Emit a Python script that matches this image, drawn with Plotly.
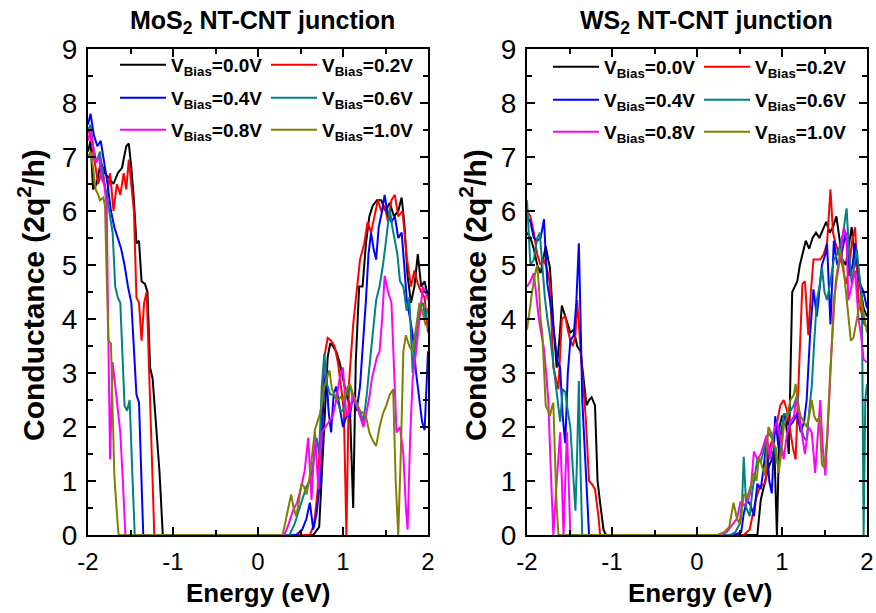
import plotly.graph_objects as go

# ---------------- DATA ----------------
bias_labels = ["0.0", "0.2", "0.4", "0.6", "0.8", "1.0"]
colors = ["#000000", "#FF0000", "#0000FF", "#008080", "#FF00FF", "#808000"]

# MoS2 NT-CNT junction
mos2_E_00 = [-2.0, -1.97, -1.94, -1.90, -1.85, -1.80, -1.75, -1.70, -1.65, -1.60, -1.55, -1.52, -1.49, -1.46, -1.43, -1.40, -1.37, -1.33, -1.30, -1.27, -1.24, -1.20, -1.16, -1.12,
             0.65, 0.72, 0.78, 0.82, 0.85, 0.88, 0.92, 0.96, 1.0, 1.04, 1.08, 1.12, 1.15, 1.19, 1.23, 1.27, 1.31, 1.35, 1.40, 1.45, 1.50, 1.55, 1.60, 1.65, 1.69, 1.72, 1.76, 1.80, 1.84, 1.88, 1.92, 1.96, 2.0]
mos2_G_00 = [7.1, 7.3, 6.4, 6.5, 6.9, 6.7, 6.6, 6.5, 6.7, 6.8, 7.2, 7.25, 6.8, 6.2, 5.4, 5.45, 4.7, 4.65, 4.5, 3.1, 2.9, 2.1, 1.2, 0.0,
             0.0, 0.15, 1.9, 3.3, 3.55, 3.5, 3.4, 3.2, 2.9, 2.6, 2.4, 0.5, 3.2, 4.6, 4.6, 5.4, 5.9, 6.1, 6.2, 6.2, 6.0, 6.15, 5.9, 6.0, 6.25, 5.8, 4.8, 4.3, 4.6, 5.2, 4.6, 4.7, 4.4]

mos2_E_02 = [-2.0, -1.97, -1.93, -1.88, -1.83, -1.78, -1.74, -1.70, -1.66, -1.62, -1.58, -1.55, -1.52, -1.49, -1.46, -1.43, -1.40, -1.37, -1.34, -1.31, -1.28, -1.25, -1.22,
             0.61, 0.66, 0.70, 0.74, 0.78, 0.82, 0.86, 0.90, 0.94, 0.98, 1.01, 1.04, 1.07, 1.12, 1.16, 1.20, 1.25, 1.29, 1.33, 1.37, 1.41, 1.45, 1.49, 1.53, 1.57, 1.61, 1.65, 1.70, 1.75, 1.80, 1.84, 1.88, 1.92, 1.96, 2.0]
mos2_G_02 = [7.5, 7.4, 7.0, 6.5, 6.8, 6.2, 6.7, 6.0, 6.5, 6.3, 6.7, 6.4, 6.95, 6.4, 6.0, 4.4, 4.3, 3.6, 4.3, 4.5, 3.1, 1.8, 0.0,
             0.0, 0.2, 0.8, 2.1, 3.3, 3.65, 3.6, 3.5, 3.2, 2.7, 2.3, 0.0, 2.8, 3.9, 4.5, 5.1, 5.4, 5.8, 5.6, 5.9, 6.2, 6.0, 6.1, 5.8, 6.2, 6.3, 5.9, 6.0, 5.15, 4.6, 4.9, 4.65, 4.5, 4.4, 3.75]

mos2_E_04 = [-2.0, -1.97, -1.93, -1.89, -1.85, -1.81, -1.77, -1.73, -1.69, -1.65, -1.61, -1.57, -1.53, -1.49, -1.46, -1.43, -1.40, -1.37, -1.35,
             0.45, 0.52, 0.57, 0.61, 0.65, 0.69, 0.73, 0.77, 0.80, 0.83, 0.86, 0.89, 0.92, 0.96, 1.0, 1.04, 1.08, 1.12, 1.16, 1.20, 1.24, 1.27, 1.30, 1.33, 1.36, 1.39, 1.42, 1.46, 1.49, 1.53, 1.57, 1.61, 1.65, 1.69, 1.72, 1.75, 1.79, 1.82, 1.86, 1.90, 1.93, 1.96, 2.0]
mos2_G_04 = [7.6, 7.8, 7.4, 7.2, 7.3, 6.9, 6.5, 6.0, 5.7, 5.5, 5.3, 5.0, 4.6, 4.3, 3.5, 2.6, 2.45, 1.2, 0.0,
             0.0, 0.1, 0.3, 0.6, 0.1, 0.4, 1.0, 2.5, 3.1, 2.3, 1.9, 2.6, 2.75, 2.4, 2.0, 2.2, 2.2, 2.6, 2.3, 2.75, 3.6, 4.35, 5.2, 5.6, 5.3, 5.1, 5.7, 6.0, 6.3, 5.9, 5.8, 5.9, 5.5, 5.6, 5.0, 4.35, 4.0, 3.7, 3.0, 2.5, 2.1, 1.94, 3.4]

mos2_E_06 = [-2.0, -1.97, -1.94, -1.90, -1.86, -1.82, -1.78, -1.74, -1.71, -1.68, -1.65, -1.62, -1.59, -1.57, -1.54, -1.51, -1.48, -1.45,
             0.37, 0.43, 0.49, 0.53, 0.57, 0.61, 0.65, 0.69, 0.72, 0.75, 0.78, 0.81, 0.85, 0.89, 0.93, 0.97, 1.0, 1.04, 1.08, 1.12, 1.16, 1.20, 1.24, 1.28, 1.31, 1.35, 1.39, 1.43, 1.47, 1.51, 1.55, 1.58, 1.61, 1.64, 1.67, 1.71, 1.75, 1.78, 1.82, 1.86, 1.90, 1.94, 1.97, 2.0]
mos2_G_06 = [7.5, 7.6, 7.2, 6.9, 7.1, 6.6, 6.3, 5.9, 5.6, 4.6, 4.4, 4.3, 3.3, 2.4, 2.3, 2.5, 1.2, 0.0,
             0.0, 0.2, 0.5, 0.7, 0.9, 1.0, 1.3, 1.8, 1.5, 2.75, 3.35, 2.8, 2.6, 2.6, 2.5, 2.3, 2.3, 2.6, 2.8, 2.5, 2.4, 2.3, 2.1, 2.6, 3.1, 3.8, 4.35, 4.6, 5.0, 5.5, 6.05, 5.7, 5.45, 5.2, 4.7, 4.6, 4.15, 4.4, 3.0, 3.7, 4.2, 4.3, 4.0, 4.2]

mos2_E_08 = [-2.0, -1.97, -1.94, -1.91, -1.87, -1.84, -1.81, -1.78, -1.76, -1.74, -1.71, -1.68, -1.65, -1.62, -1.59, -1.56,
             0.31, 0.36, 0.41, 0.46, 0.51, 0.55, 0.59, 0.63, 0.67, 0.71, 0.75, 0.79, 0.84, 0.88, 0.92, 0.96, 1.0, 1.04, 1.08, 1.12, 1.16, 1.20, 1.24, 1.28, 1.31, 1.34, 1.37, 1.40, 1.43, 1.46, 1.49, 1.53, 1.57, 1.60, 1.63, 1.67, 1.71, 1.74, 1.76, 1.79, 1.82, 1.86, 1.90, 1.94, 1.97, 2.0]
mos2_G_08 = [7.3, 7.5, 7.2, 6.9, 7.0, 6.6, 6.5, 6.1, 3.55, 1.4, 3.2, 2.8, 2.4, 1.9, 1.0, 0.0,
             0.0, 0.2, 0.45, 0.6, 0.9, 1.2, 1.8, 0.65, 1.9, 0.85, 1.9, 2.0, 2.1, 2.2, 2.5, 2.9, 3.1, 2.2, 2.3, 2.6, 2.4, 2.2, 2.0, 2.3, 2.55, 2.9, 3.1, 3.3, 3.4, 4.0, 4.8, 4.5, 4.3, 3.0, 1.9, 2.0, 1.5, 0.5, 0.1, 1.8, 2.9, 3.4, 4.0, 4.6, 4.5, 4.35]

mos2_E_10 = [-2.0, -1.97, -1.94, -1.91, -1.88, -1.86, -1.82, -1.80, -1.78, -1.76, -1.73, -1.71, -1.69, -1.66, -1.64,
             0.29, 0.33, 0.37, 0.39, 0.42, 0.45, 0.48, 0.51, 0.54, 0.57, 0.61, 0.64, 0.67, 0.70, 0.73, 0.76, 0.78, 0.81, 0.84, 0.87, 0.90, 0.94, 0.97, 1.0, 1.04, 1.08, 1.12, 1.16, 1.20, 1.24, 1.27, 1.31, 1.35, 1.39, 1.43, 1.47, 1.51, 1.55, 1.59, 1.62, 1.65, 1.68, 1.71, 1.74, 1.78, 1.82, 1.86, 1.90, 1.94, 1.97, 2.0]
mos2_G_10 = [7.0, 7.1, 6.8, 6.4, 6.3, 6.2, 6.25, 6.1, 4.8, 3.6, 3.55, 2.2, 1.1, 0.4, 0.0,
             0.0, 0.3, 0.6, 0.75, 0.5, 0.35, 0.6, 0.95, 0.9, 0.75, 1.1, 1.5, 1.95, 2.1, 2.25, 2.5, 2.75, 2.9, 3.05, 2.7, 2.6, 2.5, 2.55, 2.5, 2.7, 2.8, 2.6, 2.45, 2.3, 2.25, 2.2, 1.9, 1.75, 1.65, 2.0, 2.25, 2.4, 2.6, 2.7, 1.0, 0.0, 1.5, 3.4, 3.7, 3.5, 3.4, 3.9, 4.3, 4.1, 3.9, 3.85]

# WS2 NT-CNT junction
ws2_E_00 = [-2.0, -1.96, -1.92, -1.88, -1.84, -1.80, -1.78, -1.75, -1.73, -1.69, -1.65, -1.62, -1.59, -1.55, -1.52, -1.49, -1.45, -1.41, -1.37, -1.33, -1.30, -1.27, -1.24, -1.20, -1.17, -1.14, -1.10, -1.07,
            0.71, 0.75, 0.79, 0.84, 0.88, 0.91, 0.94, 0.97, 1.00, 1.04, 1.08, 1.12, 1.15, 1.18, 1.21, 1.24, 1.28, 1.32, 1.36, 1.40, 1.44, 1.48, 1.52, 1.56, 1.60, 1.64, 1.68, 1.71, 1.75, 1.79, 1.82, 1.85, 1.88, 1.92, 1.96, 2.0]
ws2_G_00 = [5.6, 5.5, 5.3, 5.0, 4.85, 5.2, 5.35, 5.1, 4.95, 3.9, 3.1, 3.6, 4.25, 4.05, 3.9, 3.75, 3.8, 3.5, 3.4, 2.8, 2.4, 2.5, 2.55, 2.4, 1.0, 0.6, 0.1, 0.0,
            0.0, 0.65, 0.9, 1.25, 1.4, 1.6, 0.0, 2.0, 2.2, 2.2, 1.5, 4.5, 4.6, 4.7, 5.0, 5.2, 5.45, 5.3, 5.5, 5.6, 5.5, 5.65, 5.8, 5.6, 5.7, 5.9, 5.4, 5.1, 5.0, 5.4, 5.7, 5.2, 4.95, 4.6, 4.2, 4.05]

ws2_E_02 = [-2.0, -1.96, -1.92, -1.88, -1.84, -1.80, -1.76, -1.73, -1.69, -1.66, -1.63, -1.59, -1.55, -1.52, -1.49, -1.46, -1.43, -1.41, -1.38, -1.35, -1.31, -1.27, -1.24, -1.20, -1.16, -1.14,
            0.55, 0.62, 0.69, 0.74, 0.80, 0.85, 0.92, 0.98, 1.02, 1.06, 1.10, 1.13, 1.16, 1.20, 1.24, 1.27, 1.31, 1.34, 1.37, 1.41, 1.45, 1.49, 1.53, 1.57, 1.60, 1.63, 1.67, 1.71, 1.75, 1.79, 1.82, 1.86, 1.90, 1.94, 1.97, 2.0]
ws2_G_02 = [6.0, 5.9, 5.6, 5.2, 5.0, 5.1, 4.9, 4.65, 3.1, 2.9, 2.7, 4.0, 4.05, 3.8, 3.6, 3.5, 3.7, 4.35, 3.6, 3.0, 2.2, 1.0, 0.95, 0.85, 0.35, 0.0,
            0.0, 0.1, 0.65, 0.9, 0.95, 1.6, 1.9, 2.4, 2.5, 2.3, 1.9, 1.6, 1.4, 3.1, 4.65, 4.7, 3.7, 4.5, 5.1, 5.1, 5.1, 5.2, 5.4, 6.4, 5.6, 5.4, 5.2, 5.0, 4.65, 4.9, 5.4, 5.7, 4.35, 4.1, 3.9, 3.85]

ws2_E_04 = [-2.0, -1.96, -1.92, -1.88, -1.84, -1.80, -1.78, -1.76, -1.73, -1.70, -1.67, -1.64, -1.61, -1.58, -1.55, -1.52, -1.49, -1.45, -1.42, -1.39, -1.37, -1.35, -1.31, -1.27,
            0.43, 0.52, 0.55, 0.59, 0.63, 0.67, 0.71, 0.75, 0.78, 0.82, 0.85, 0.88, 0.92, 0.96, 1.00, 1.04, 1.08, 1.13, 1.18, 1.22, 1.26, 1.29, 1.33, 1.37, 1.41, 1.45, 1.47, 1.51, 1.53, 1.57, 1.61, 1.65, 1.70, 1.75, 1.80, 1.83, 1.86, 1.89, 1.92, 1.96, 2.0]
ws2_G_04 = [5.9, 5.8, 5.5, 5.45, 5.5, 5.85, 5.2, 4.65, 4.35, 4.0, 3.6, 3.2, 3.1, 2.2, 1.7, 3.0, 3.6, 3.7, 4.3, 5.4, 4.0, 2.5, 1.25, 0.0,
            0.0, 0.05, 0.4, 0.65, 0.55, 0.35, 0.95, 0.85, 1.2, 1.75, 1.0, 0.77, 2.2, 1.6, 2.0, 2.25, 2.0, 2.1, 2.25, 1.9, 2.1, 2.5, 3.7, 4.55, 4.05, 4.7, 5.0, 5.2, 5.4, 3.9, 5.45, 5.0, 5.2, 5.6, 4.8, 5.0, 5.4, 5.0, 4.65, 4.5, 4.2]

ws2_E_06 = [-2.0, -1.98, -1.96, -1.92, -1.88, -1.85, -1.82, -1.79, -1.76, -1.73, -1.70, -1.67, -1.64, -1.61, -1.58, -1.55, -1.52, -1.49, -1.46, -1.43, -1.41, -1.39, -1.37, -1.35,
            0.39, 0.45, 0.50, 0.53, 0.55, 0.58, 0.62, 0.65, 0.68, 0.71, 0.75, 0.79, 0.84, 0.88, 0.92, 0.96, 1.00, 1.02, 1.06, 1.10, 1.14, 1.18, 1.22, 1.26, 1.29, 1.32, 1.35, 1.38, 1.41, 1.44, 1.47, 1.50, 1.53, 1.57, 1.61, 1.65, 1.69, 1.72, 1.76, 1.79, 1.82, 1.85, 1.88, 1.91, 1.94, 1.96, 1.98, 2.0]
ws2_G_06 = [6.2, 5.5, 5.0, 5.1, 5.5, 5.6, 5.0, 4.4, 4.0, 3.7, 3.3, 2.9, 2.5, 2.1, 2.7, 2.65, 2.3, 2.0, 1.2, 0.45, 1.5, 2.85, 1.2, 0.0,
            0.0, 0.05, 0.2, 0.6, 1.45, 0.5, 0.35, 0.8, 1.1, 1.4, 1.35, 1.6, 1.9, 1.8, 1.5, 1.25, 1.8, 2.25, 2.2, 2.3, 2.4, 2.6, 2.0, 1.8, 1.75, 2.3, 2.75, 3.6, 4.35, 4.6, 4.95, 4.5, 4.35, 4.7, 5.1, 5.2, 5.4, 5.6, 6.05, 5.2, 4.65, 5.0, 5.3, 4.8, 4.35, 0.0, 2.5, 2.8]

ws2_E_08 = [-2.0, -1.96, -1.92, -1.89, -1.86, -1.83, -1.80, -1.77, -1.75, -1.72, -1.69, -1.65, -1.61, -1.59, -1.57, -1.55, -1.53, -1.51, -1.49,
            0.27, 0.35, 0.42, 0.47, 0.51, 0.55, 0.59, 0.63, 0.67, 0.71, 0.75, 0.79, 0.82, 0.86, 0.90, 0.94, 0.98, 1.02, 1.06, 1.10, 1.14, 1.17, 1.21, 1.24, 1.27, 1.31, 1.35, 1.39, 1.42, 1.45, 1.48, 1.51, 1.54, 1.57, 1.61, 1.65, 1.69, 1.73, 1.76, 1.78, 1.82, 1.86, 1.90, 1.93, 1.96, 2.0]
ws2_G_08 = [4.6, 4.7, 4.85, 4.4, 4.0, 3.7, 3.45, 2.9, 2.5, 1.2, 0.0, 1.0, 1.9, 1.0, 0.0, 1.0, 1.9, 1.0, 0.0,
            0.0, 0.05, 0.2, 0.3, 0.6, 0.55, 0.6, 0.8, 1.55, 1.4, 1.5, 1.7, 1.85, 1.4, 1.9, 2.1, 1.8, 1.4, 1.9, 2.1, 2.2, 2.55, 2.1, 1.8, 1.5, 2.0, 1.9, 1.15, 1.8, 2.5, 1.6, 1.1, 2.0, 3.1, 4.35, 4.8, 5.2, 5.7, 5.5, 4.35, 4.6, 4.9, 4.0, 3.7, 3.25, 3.2]

ws2_E_10 = [-2.0, -1.97, -1.94, -1.91, -1.88, -1.86, -1.84, -1.82, -1.80, -1.78, -1.75, -1.73, -1.71, -1.69, -1.67, -1.65, -1.63,
            0.24, 0.32, 0.38, 0.43, 0.47, 0.51, 0.55, 0.59, 0.63, 0.67, 0.70, 0.73, 0.76, 0.80, 0.84, 0.87, 0.90, 0.93, 0.96, 0.99, 1.02, 1.06, 1.10, 1.14, 1.16, 1.19, 1.22, 1.26, 1.29, 1.32, 1.35, 1.38, 1.41, 1.44, 1.47, 1.50, 1.53, 1.57, 1.60, 1.63, 1.66, 1.69, 1.72, 1.75, 1.78, 1.81, 1.84, 1.87, 1.90, 1.93, 1.96, 2.0]
ws2_G_10 = [3.8, 4.2, 4.5, 4.8, 5.0, 4.6, 4.0, 3.75, 3.0, 2.4, 2.3, 2.2, 2.35, 2.45, 1.4, 0.5, 0.0,
            0.0, 0.05, 0.15, 0.6, 0.3, 0.2, 0.75, 0.7, 0.9, 1.15, 1.0, 1.45, 1.3, 1.1, 2.0, 1.9, 1.7, 1.6, 1.15, 1.5, 2.0, 2.2, 2.5, 2.6, 2.8, 2.4, 2.2, 2.1, 2.0, 2.2, 2.5, 2.2, 2.1, 2.2, 1.3, 1.25, 1.8, 3.1, 4.0, 4.65, 5.0, 5.3, 5.0, 4.5, 4.1, 3.6, 3.65, 3.9, 4.2, 4.4, 4.1, 3.75]

mos2_series = [(mos2_E_00, mos2_G_00), (mos2_E_02, mos2_G_02), (mos2_E_04, mos2_G_04),
               (mos2_E_06, mos2_G_06), (mos2_E_08, mos2_G_08), (mos2_E_10, mos2_G_10)]
ws2_series = [(ws2_E_00, ws2_G_00), (ws2_E_02, ws2_G_02), (ws2_E_04, ws2_G_04),
              (ws2_E_06, ws2_G_06), (ws2_E_08, ws2_G_08), (ws2_E_10, ws2_G_10)]

x_ticks = [-2, -1, 0, 1, 2]
y_ticks = [0, 1, 2, 3, 4, 5, 6, 7, 8, 9]

# ---------------- FIGURE ----------------
FONT = "Liberation Sans, Arial, Helvetica, sans-serif"
W, H = 876, 613
L, R, T, B = 88, 9, 49, 78
pw = W - L - R
ph = H - T - B

fig = go.Figure()

legend_names_left = ["legend", "legend", "legend2", "legend2", "legend3", "legend3"]
legend_names_right = ["legend4", "legend4", "legend5", "legend5", "legend6", "legend6"]

for i, (E, G) in enumerate(mos2_series):
    fig.add_trace(go.Scatter(x=E, y=G, mode="lines", xaxis="x", yaxis="y",
                             line=dict(color=colors[i], width=2),
                             name=f"V<sub>Bias</sub>={bias_labels[i]}V",
                             legend=legend_names_left[i]))
for i, (E, G) in enumerate(ws2_series):
    fig.add_trace(go.Scatter(x=E, y=G, mode="lines", xaxis="x2", yaxis="y2",
                             line=dict(color=colors[i], width=2),
                             name=f"V<sub>Bias</sub>={bias_labels[i]}V",
                             legend=legend_names_right[i]))


def xax(domain, anchor):
    return dict(domain=domain, anchor=anchor, range=[-2, 2], tickmode="array", tickvals=x_ticks,
                ticktext=[str(v) for v in x_ticks],
                ticks="inside", ticklen=8, tickwidth=2, tickcolor="black",
                showline=True, linewidth=2, linecolor="black", mirror="allticks",
                showgrid=False, zeroline=False, ticklabelstandoff=4,
                minor=dict(tickvals=[-1.5, -0.5, 0.5, 1.5], ticks="inside", ticklen=5, tickwidth=2, tickcolor="black"),
                tickfont=dict(family=FONT, size=24, color="black"))


def yax(anchor):
    return dict(domain=[0, 1], anchor=anchor, range=[0, 9], tickmode="array", tickvals=y_ticks,
                ticks="inside", ticklen=8, tickwidth=2, tickcolor="black",
                showline=True, linewidth=2, linecolor="black", mirror="allticks",
                showgrid=False, zeroline=False, ticklabelstandoff=3,
                minor=dict(tickvals=[v + 0.5 for v in y_ticks[:-1]], ticks="inside", ticklen=5, tickwidth=2, tickcolor="black"),
                tickfont=dict(family=FONT, size=28, color="black"))


legend_common = dict(orientation="h", xref="paper", yref="paper", xanchor="left", yanchor="middle",
                     bgcolor="rgba(0,0,0,0)", borderwidth=0, itemwidth=46, entrywidth=90, entrywidthmode="pixels",
                     font=dict(family=FONT, size=19, color="black", weight="bold"), tracegroupgap=0)


def leg(px, py):
    d = dict(legend_common)
    d.update(x=(px - L) / pw, y=(H - B - py) / ph)
    return d


fig.update_layout(
    width=W, height=H,
    margin=dict(l=L, r=R, t=T, b=B, autoexpand=False),
    paper_bgcolor="white", plot_bgcolor="white",
    font=dict(family=FONT, color="black"),
    xaxis=xax([0, 340 / pw], "y"),
    yaxis=yax("x"),
    xaxis2=xax([439 / pw, 1], "y2"),
    yaxis2=yax("x2"),
    legend=leg(115, 65), legend2=leg(115, 98), legend3=leg(115, 130),
    legend4=leg(548, 67), legend5=leg(548, 100), legend6=leg(548, 132),
    showlegend=True,
)

titles = [("MoS<sub>2</sub> NT-CNT junction", 262), ("WS<sub>2</sub> NT-CNT junction", 706)]
for txt, cx in titles:
    fig.add_annotation(text=txt, xref="paper", yref="paper", x=(cx - L) / pw, y=(H - B - 22) / ph,
                       xanchor="center", yanchor="middle", showarrow=False,
                       font=dict(family=FONT, size=25, color="black", weight="bold"))

for cx in [258, 700]:
    fig.add_annotation(text="Energy (eV)", xref="paper", yref="paper", x=(cx - L) / pw, y=(H - B - 593) / ph,
                       xanchor="center", yanchor="middle", showarrow=False,
                       font=dict(family=FONT, size=26, color="black", weight="bold"))

for cx in [31, 473]:
    fig.add_annotation(text="Conductance (2q<sup>2</sup>/h)", xref="paper", yref="paper", x=(cx - L) / pw, y=(H - B - 295) / ph,
                       xanchor="center", yanchor="middle", textangle=-90, showarrow=False,
                       font=dict(family=FONT, size=30, color="black", weight="bold"))

fig.write_html("out.html")
